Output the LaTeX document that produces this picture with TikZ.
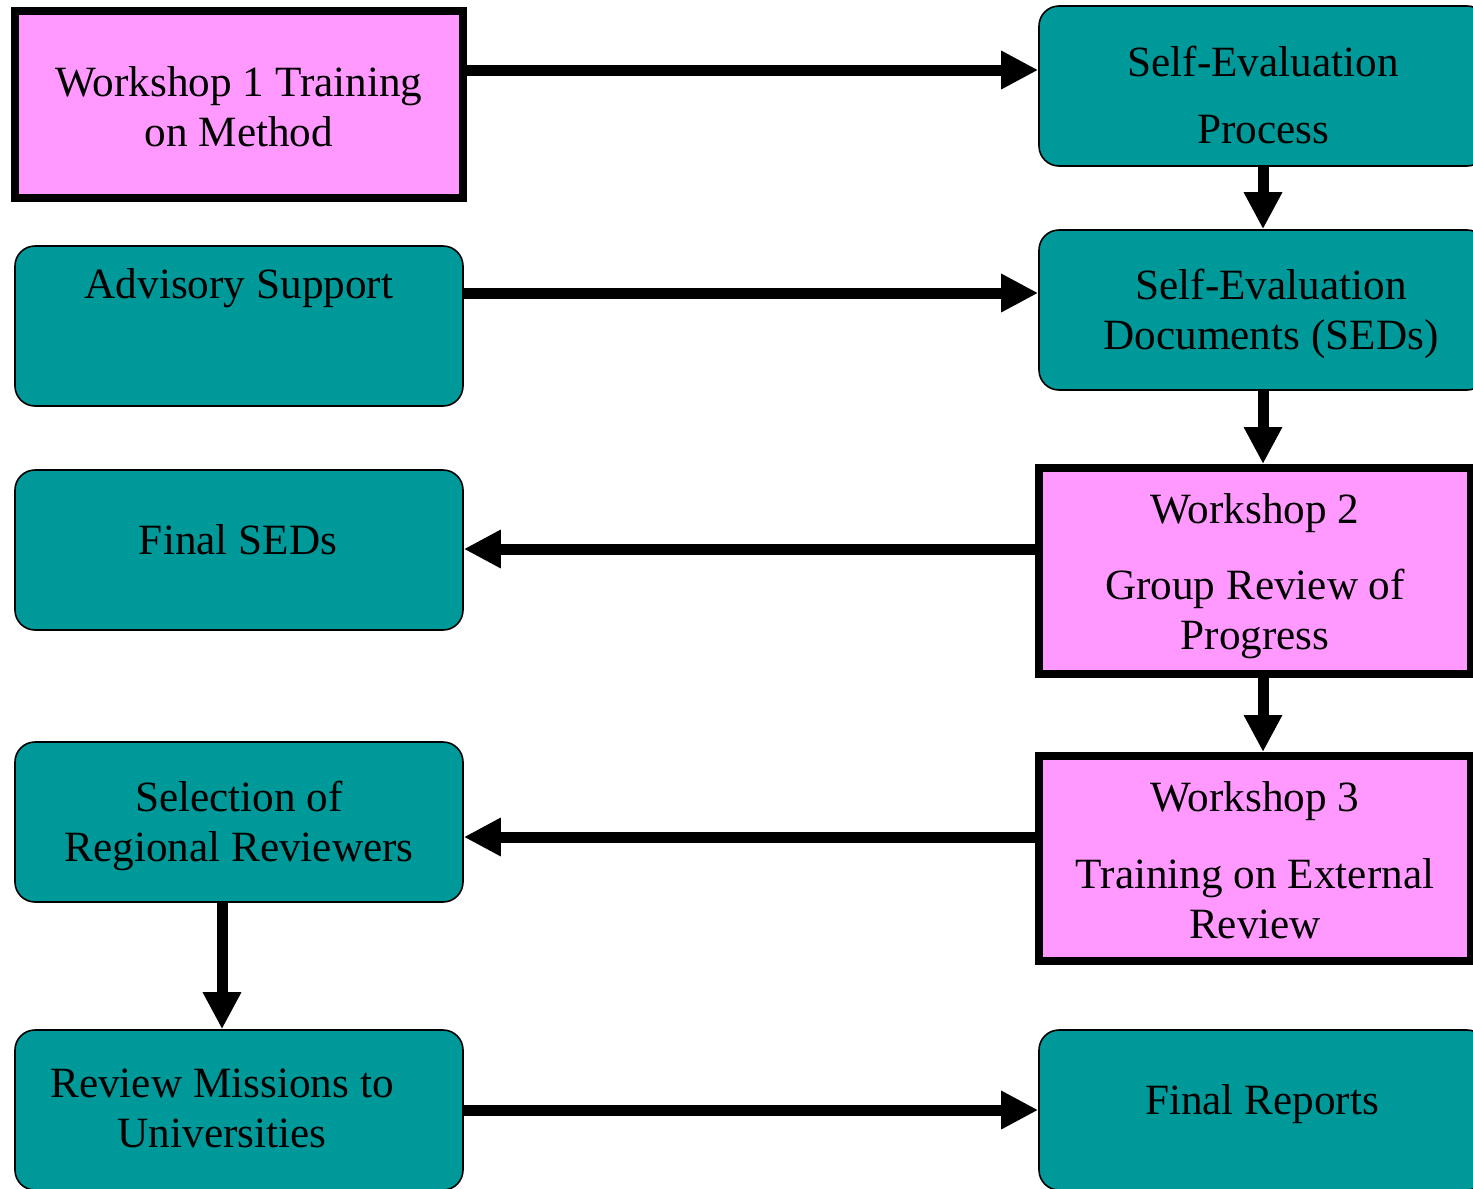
\documentclass[tikz,border=0pt]{standalone}
\usepackage{fontspec}
\setmainfont{Liberation Serif}
\usetikzlibrary{arrows.meta}
\definecolor{tealbox}{HTML}{009999}
\definecolor{pinkbox}{HTML}{FF99FF}
\newcommand\stt{\rule[-5pt]{0pt}{19pt}}
\tikzset{
  tbox/.style={draw=black, line width=0.8pt, fill=tealbox, rounded corners=10pt,
    minimum width=224pt, minimum height=80pt, inner sep=0pt},
  pbox/.style={draw=black, line width=4pt, fill=pinkbox, inner sep=0pt},
  txt/.style={font=\fontsize{21.6}{25}\selectfont, align=center, inner sep=0pt, text=black},
  arr/.style={line width=5.5pt, -{Triangle[length=18.5pt,width=18pt]}}
}
\begin{document}
\begin{tikzpicture}[x=0.5pt,y=-0.5pt]
\useasboundingbox (0,0) rectangle (1473,1189);
\clip (0,0) rectangle (1473,1189);
% boxes
\node[pbox, minimum width=224pt, minimum height=93.5pt] (w1) at (239,104.5) {};
\node[tbox] (sep) at (1263,86) {};
\node[tbox] (adv) at (239,326) {};
\node[tbox] (seds) at (1263,310) {};
\node[tbox] (fsed) at (239,550) {};
\node[pbox, minimum width=216pt, minimum height=103pt] (w2) at (1255,571) {};
\node[tbox] (sel) at (239,822) {};
\node[pbox, minimum width=216pt, minimum height=102.5pt] (w3) at (1255,858.5) {};
\node[tbox] (rev) at (239,1110) {};
\node[tbox] (fr) at (1263,1110) {};
% texts
\node[txt] (tw1) at (239,111.7) {\stt Workshop 1 Training\\\stt on Method};
\node[txt] (tsep) at (1263,99.3) {\stt Self-Evaluation\\[8.5pt]\stt Process};
\node[txt] (tadv) at (239,289) {\stt Advisory Support};
\node[txt] (tseds) at (1271,314.5) {\stt Self-Evaluation\\\stt Documents (SEDs)};
\node[txt] (tfsed) at (238,545) {\stt Final SEDs};
\node[txt] (tw2) at (1255,576.8) {\stt Workshop 2\\[13pt]\stt Group Review of\\\stt Progress};
\node[txt] (tsel) at (239,826.5) {\stt Selection of\\\stt Regional Reviewers};
\node[txt] (tw3) at (1255,865) {\stt Workshop 3\\[13.5pt]\stt Training on External\\\stt Review};
\node[txt] (trev) at (222,1113.3) {\stt Review Missions to\\\stt Universities};
\node[txt] (tfr) at (1262,1104) {\stt Final Reports};
% helper coordinates
\coordinate (ya) at (0,70);
\coordinate (yb) at (0,293);
\coordinate (yc) at (0,549);
\coordinate (yd) at (0,837);
\coordinate (xa) at (222,0);
\coordinate (xb) at (1263,0);
% arrows
\draw[arr] (w1.east |- ya) -- (sep.west |- ya);
\draw[arr] (sep.south) -- (seds.north);
\draw[arr] (adv.east |- yb) -- (seds.west |- yb);
\draw[arr] (seds.south) -- (xb |- w2.north);
\draw[arr] (w2.west |- yc) -- (fsed.east |- yc);
\draw[arr] (xb |- w2.south) -- (xb |- w3.north);
\draw[arr] (w3.west |- yd) -- (sel.east |- yd);
\draw[arr] (xa |- sel.south) -- (xa |- rev.north);
\draw[arr] (rev.east) -- (fr.west);
\end{tikzpicture}
\end{document}
